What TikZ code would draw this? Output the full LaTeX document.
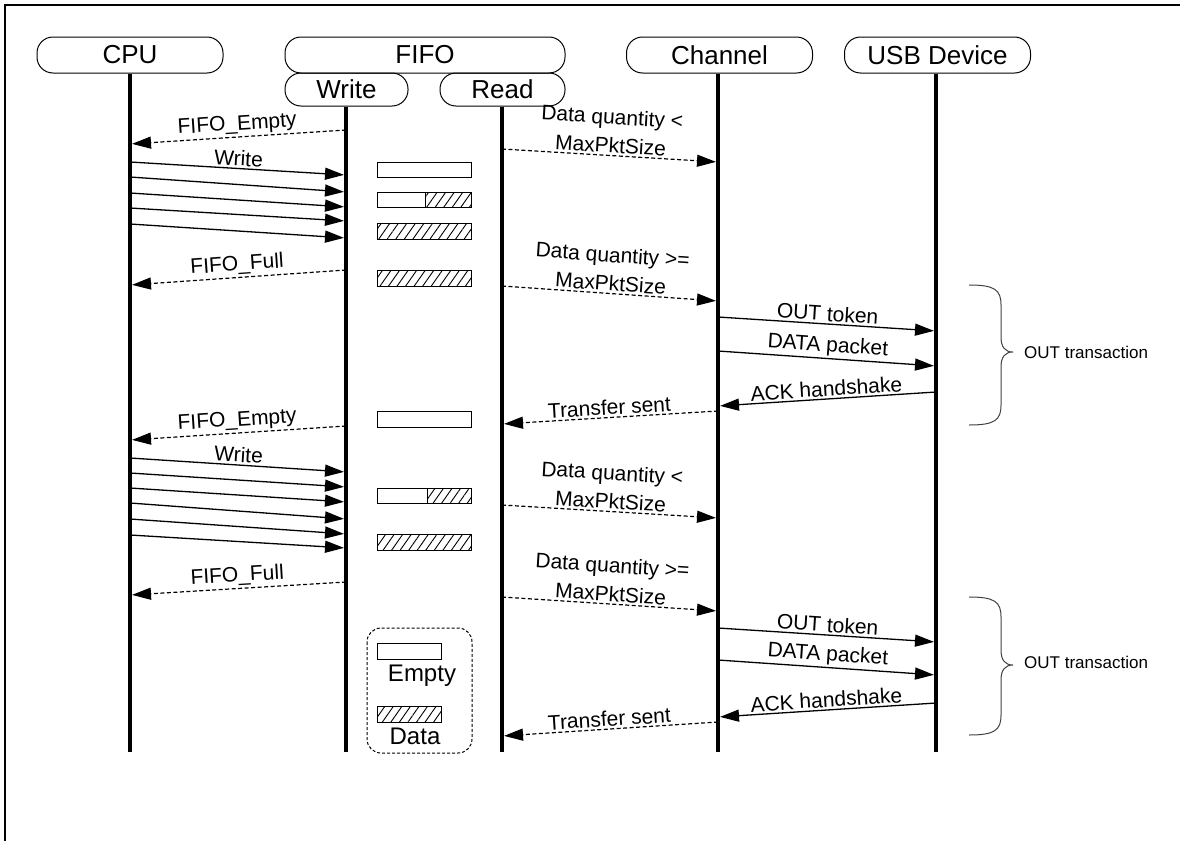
\documentclass[tikz,border=0pt]{standalone}
\usepackage{fontspec}
\setmainfont{Liberation Sans}
\usetikzlibrary{arrows.meta,patterns.meta,calc}
\newcommand\mymsg[6]{\draw[#1] (#2 |- 0,#3) -- node[lbl]{#6} (#4 |- 0,#5);}
\newcommand\myarr[5]{\draw[#1] (#2 |- 0,#3) -- (#4 |- 0,#5);}
\begin{document}
\begin{tikzpicture}[x=1pt,y=-1pt,
  hdr/.style={draw, line width=1pt, rounded corners=16pt, minimum height=36pt, inner sep=0pt, font=\fontsize{26}{28}\selectfont},
  life/.style={line width=4pt},
  msg/.style={line width=1.3pt, -{Triangle[length=19pt,width=12pt]}, shorten >=2pt},
  rmsg/.style={msg, dash pattern=on 4pt off 2.5pt, line width=1.2pt},
  lbl/.style={font=\fontsize{21}{28.5}\selectfont, above, sloped, inner sep=2pt, align=center},
  fbox/.style={draw, line width=1pt},
  hatch/.style={fbox, pattern={Lines[angle=55,distance=7pt,line width=0.9pt]}},
  brace/.style={line width=1pt, draw=black!75},
  btext/.style={font=\fontsize{17}{20}\selectfont, anchor=west, inner sep=0pt},
]
\useasboundingbox (0,0) rectangle (1180,841);
\draw[line width=2pt] (5,841) -- (5,5) -- (1180,5);

% headers
\node[hdr, minimum width=186pt] (cpu) at (130,55) {CPU};
\node[hdr, minimum width=280pt] (fifo) at (425,55) {FIFO};
\node[hdr, minimum width=123pt, minimum height=33pt] (wr) at (346.5,89.5) {Write};
\node[hdr, minimum width=125pt, minimum height=33pt] (rd) at (502.5,89.5) {Read};
\node[hdr, minimum width=186pt] (ch) at (719.5,55) {Channel};
\node[hdr, minimum width=186pt] (usb) at (937.5,55) {USB Device};

% lifelines
\coordinate (cpuB) at (130,752);
\coordinate (wrB) at (346,752);
\coordinate (rdB) at (502,752);
\coordinate (chB) at (718,752);
\coordinate (usbB) at (936,752);
\draw[life] (cpuB |- cpu.south) -- (cpuB);
\draw[life] (wrB |- wr.south) -- (wrB);
\draw[life] (rdB |- rd.south) -- (rdB);
\draw[life] (chB |- ch.south) -- (chB);
\draw[life] (usbB |- usb.south) -- (usbB);

% first round
\mymsg{rmsg}{wrB}{130}{cpuB}{144}{FIFO\_Empty}
\mymsg{msg}{cpuB}{162}{wrB}{175}{Write}
\myarr{msg}{cpuB}{177}{wrB}{192}
\myarr{msg}{cpuB}{193}{wrB}{207}
\myarr{msg}{cpuB}{208}{wrB}{221}
\myarr{msg}{cpuB}{224}{wrB}{238}
\mymsg{rmsg}{wrB}{270}{cpuB}{285}{FIFO\_Full}
\mymsg{rmsg}{rdB}{149}{chB}{162}{Data quantity <\\MaxPktSize}
\mymsg{rmsg}{rdB}{286}{chB}{301}{Data quantity >=\\MaxPktSize}
\mymsg{msg}{chB}{317}{usbB}{331}{OUT token}
\mymsg{msg}{chB}{351}{usbB}{366}{DATA packet}
\mymsg{msg}{usbB}{392}{chB}{406}{ACK handshake}
\mymsg{rmsg}{chB}{411}{rdB}{424}{Transfer sent}

% second round
\mymsg{rmsg}{wrB}{426}{cpuB}{440}{FIFO\_Empty}
\mymsg{msg}{cpuB}{458}{wrB}{472}{Write}
\myarr{msg}{cpuB}{473}{wrB}{487}
\myarr{msg}{cpuB}{488}{wrB}{502}
\myarr{msg}{cpuB}{503}{wrB}{519}
\myarr{msg}{cpuB}{519}{wrB}{534}
\myarr{msg}{cpuB}{535}{wrB}{548}
\mymsg{rmsg}{wrB}{582}{cpuB}{595}{FIFO\_Full}
\mymsg{rmsg}{rdB}{505}{chB}{518}{Data quantity <\\MaxPktSize}
\mymsg{rmsg}{rdB}{597}{chB}{611}{Data quantity >=\\MaxPktSize}
\mymsg{msg}{chB}{628}{usbB}{642}{OUT token}
\mymsg{msg}{chB}{660}{usbB}{675}{DATA packet}
\mymsg{msg}{usbB}{703}{chB}{717}{ACK handshake}
\mymsg{rmsg}{chB}{722}{rdB}{736}{Transfer sent}

% FIFO state boxes
\draw[fbox] (377,162) rectangle (471,177);
\draw[fbox] (377,192) rectangle (425,207);
\draw[hatch] (425,192) rectangle (471,207);
\draw[hatch] (377,223) rectangle (471,239);
\draw[hatch] (377,270) rectangle (471,286);
\draw[fbox] (377,411) rectangle (471,427);
\draw[fbox] (377,488) rectangle (427,503);
\draw[hatch] (427,488) rectangle (471,503);
\draw[hatch] (377,534) rectangle (471,550);

% legend
\draw[line width=1pt, dash pattern=on 3pt off 2pt, rounded corners=14pt] (367,628) rectangle (472,753);
\draw[fbox] (377,643) rectangle (441,659);
\node[font=\fontsize{24}{26}\selectfont, inner sep=0pt] (lgE) at (422,676) {Empty};
\draw[hatch] (377,706) rectangle (441,722);
\node[font=\fontsize{24}{26}\selectfont, inner sep=0pt] (lgD) at (415,736) {Data};

% braces
\draw[brace] (969,285) .. controls (995,285) and (1001,290) .. (1001,305) -- (1001,337) .. controls (1001,347) and (1005,352) .. (1013,352) .. controls (1005,352) and (1001,357) .. (1001,367) -- (1001,405) .. controls (1001,420) and (995,425) .. (969,425);
\node[btext] (ot1) at (1024,352) {OUT transaction};
\draw[brace] (969,597) .. controls (995,597) and (1001,602) .. (1001,617) -- (1001,650) .. controls (1001,660) and (1005,665) .. (1013,665) .. controls (1005,665) and (1001,670) .. (1001,680) -- (1001,715) .. controls (1001,730) and (995,735) .. (969,735);
\node[btext] (ot2) at (1024,662) {OUT transaction};
\end{tikzpicture}
\end{document}
